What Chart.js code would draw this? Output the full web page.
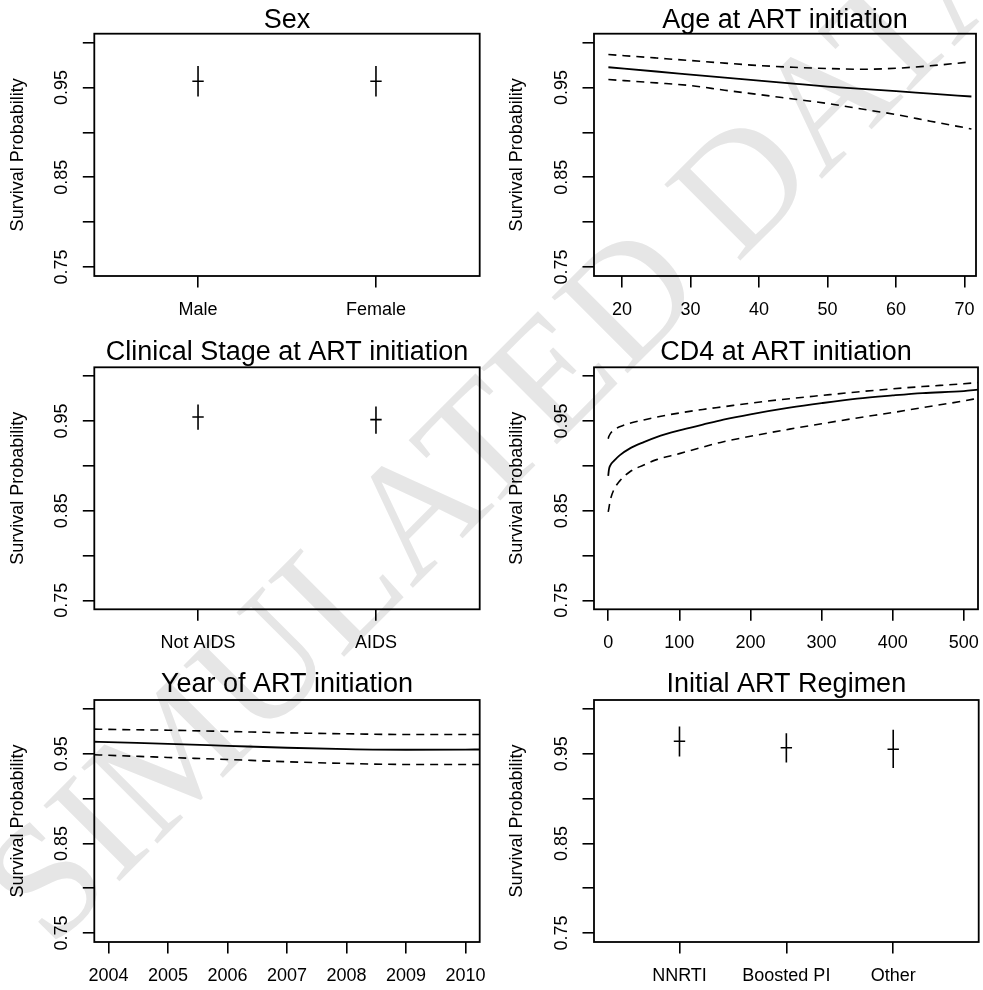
<!DOCTYPE html>
<html>
<head>
<meta charset="utf-8">
<script src="https://cdn.jsdelivr.net/npm/chart.js@4.4.0/dist/chart.umd.min.js"></script>
<style>
html,body{margin:0;padding:0;background:#fff;width:983px;height:990px;overflow:hidden;position:relative;}
#wm{position:absolute;left:505px;top:418px;transform:translate(-50%,-50%) rotate(-45deg);font-family:'Liberation Serif','Times New Roman',serif;font-size:164px;line-height:1;color:#e6e6e6;white-space:nowrap;z-index:0;}
canvas{position:absolute;z-index:1;}
</style>
</head>
<body>
<div id="wm">SIMULATED DATA</div>
<script>
// ---------------- data ----------------
const yTickValues = [0.75, 0.80, 0.85, 0.90, 0.95, 1.00];
const yTickLabels = ['0.75', '', '0.85', '', '0.95', ''];

const sexGroups = ['Male', 'Female'];
const sexEstimate = [0.957, 0.957];
const sexLower = [0.940, 0.940];
const sexUpper = [0.974, 0.974];

const stageGroups = ['Not AIDS', 'AIDS'];
const stageEstimate = [0.9545, 0.9516];
const stageLower = [0.9404, 0.9360];
const stageUpper = [0.9686, 0.9664];

const regimenGroups = ['NNRTI', 'Boosted PI', 'Other'];
const regimenEstimate = [0.9640, 0.9567, 0.9551];
const regimenLower = [0.9470, 0.9403, 0.9340];
const regimenUpper = [0.9804, 0.9730, 0.9768];

const ageTicks = [20, 30, 40, 50, 60, 70];
const ageValues = [18, 25, 30, 35, 40, 45, 50, 55, 60, 65, 71];
const ageEstimate = [0.9726, 0.9679, 0.9645, 0.9611, 0.9578, 0.9544, 0.9511, 0.9485, 0.9459, 0.9432, 0.9400];
const ageUpper = [0.9868, 0.9829, 0.9801, 0.9772, 0.9745, 0.9726, 0.9712, 0.9704, 0.9715, 0.9742, 0.9787];
const ageLower = [0.9589, 0.9552, 0.9522, 0.9470, 0.9422, 0.9372, 0.9322, 0.9260, 0.9199, 0.9125, 0.9039];

const cd4Ticks = [0, 100, 200, 300, 400, 500];
const cd4Values = [0, 1, 3, 8, 16, 30, 50, 68, 100, 133, 162, 200, 255, 300, 350, 400, 442, 500, 520];
const cd4Estimate = [0.8888, 0.8959, 0.9007, 0.9055, 0.9118, 0.9193, 0.9266, 0.9322, 0.9396, 0.9460, 0.9515, 0.9575, 0.9649, 0.9700, 0.9750, 0.9786, 0.9812, 0.9834, 0.9850];
const cd4Upper = [0.9304, 0.9330, 0.9360, 0.9400, 0.9436, 0.9475, 0.9513, 0.9545, 0.9590, 0.9630, 0.9660, 0.9700, 0.9750, 0.9786, 0.9825, 0.9860, 0.9885, 0.9916, 0.9930];
const cd4Lower = [0.8487, 0.8530, 0.8620, 0.8735, 0.8830, 0.8932, 0.9010, 0.9070, 0.9137, 0.9210, 0.9270, 0.9330, 0.9410, 0.9470, 0.9535, 0.9595, 0.9650, 0.9725, 0.9755];

const yearTicks = [2004, 2005, 2006, 2007, 2008, 2009, 2010];
const yearValues = [2003.76, 2004, 2005, 2006, 2007, 2008, 2009, 2010, 2010.24];
const yearEstimate = [0.9634, 0.9629, 0.9611, 0.9589, 0.9567, 0.9552, 0.9545, 0.9547, 0.9548];
const yearUpper = [0.9775, 0.9772, 0.9763, 0.9749, 0.9734, 0.9723, 0.9715, 0.9715, 0.9715];
const yearLower = [0.9489, 0.9483, 0.9459, 0.9436, 0.9411, 0.9392, 0.9381, 0.9381, 0.9381];

// ---------------- styling / layout ----------------
Chart.defaults.font.family = "'Liberation Sans', Arial, Helvetica, sans-serif";
Chart.defaults.font.size = 18;
Chart.defaults.color = '#000';
Chart.defaults.animation = false;

const FONT = "'Liberation Sans', Arial, Helvetica, sans-serif";
const TITLE_H = 40, XAX_H = 60;

const boxPlugin = {
  id: 'rbox',
  afterDatasetsDraw(chart) {
    const {ctx, chartArea: a} = chart;
    ctx.save();
    ctx.strokeStyle = '#000';
    ctx.lineWidth = 1.8;
    ctx.strokeRect(a.left, a.top, a.right - a.left, a.bottom - a.top);
    ctx.restore();
  }
};

function curveSets(xs, est, lo, hi) {
  const mk = (vals, dash, w) => ({
    data: xs.map((x, i) => ({x: x, y: vals[i]})),
    showLine: true, pointRadius: 0, borderColor: '#000', borderWidth: w,
    borderDash: dash, cubicInterpolationMode: 'monotone', clip: 0
  });
  return [mk(est, [], 1.8), mk(hi, [8, 6], 1.6), mk(lo, [8, 6], 1.6)];
}

function crossSets(groups, est, lo, hi) {
  const sets = groups.map((g, i) => ({
    data: [{x: i + 1, y: lo[i]}, {x: i + 1, y: hi[i]}],
    showLine: true, pointRadius: 0, borderColor: '#000', borderWidth: 1.6
  }));
  sets.push({
    data: groups.map((g, i) => ({x: i + 1, y: est[i]})),
    showLine: false, pointStyle: 'line', pointRadius: 5.7,
    pointBorderColor: '#000', borderColor: '#000', pointBorderWidth: 1.6, borderWidth: 1.6
  });
  return sets;
}

function makePanel(p) {
  const left = p.colLeft;
  const top = Math.floor(p.box.t - TITLE_H);
  const titleH = p.box.t - top;
  const w = Math.ceil(p.box.r + 40 - left);
  const h = Math.ceil(titleH + (p.box.b - p.box.t) + XAX_H);
  const cv = document.createElement('canvas');
  cv.width = w; cv.height = h;
  cv.style.left = left + 'px'; cv.style.top = top + 'px';
  cv.style.width = w + 'px'; cv.style.height = h + 'px';
  document.body.appendChild(cv);

  const yAxW = p.box.l - left;
  const xAxH = h - (p.box.b - top);
  const tTop = (p.titleBase - 9.36 - top) - 12.15;
  const tBot = titleH - 24.3 - tTop;

  new Chart(cv, {
    type: 'scatter',
    data: {datasets: p.datasets},
    plugins: [boxPlugin],
    options: {
      responsive: false,
      animation: false,
      layout: {padding: {left: 0, top: 0, bottom: 0, right: w - (p.box.r - left)}},
      plugins: {
        legend: {display: false},
        tooltip: {enabled: false},
        title: {
          display: true, text: p.title, fullSize: false, color: '#000',
          font: {family: FONT, size: 27, weight: 'normal', lineHeight: 0.9},
          padding: {top: tTop, bottom: tBot}
        }
      },
      scales: {
        x: {
          type: 'linear', position: 'bottom', min: p.xMin, max: p.xMax,
          afterBuildTicks: s => { s.ticks = p.xTicks.map(v => ({value: v})); },
          afterFit: s => { s.height = xAxH; },
          ticks: {callback: p.xLabel, padding: 11.4, autoSkip: false, maxRotation: 0, minRotation: 0, color: '#000', font: {family: FONT, size: 18}},
          grid: {drawOnChartArea: false, drawTicks: true, tickLength: 11.5, color: '#000', lineWidth: 1.6},
          border: {display: false}
        },
        y: {
          type: 'linear', position: 'left', min: 0.74, max: 1.01,
          afterBuildTicks: s => { s.ticks = yTickValues.map(v => ({value: v})); },
          afterFit: s => { s.width = yAxW; },
          ticks: {callback: v => yTickLabels[yTickValues.indexOf(v)], autoSkip: false, minRotation: 90, maxRotation: 90, crossAlign: 'center', padding: 3, color: '#000', font: {family: FONT, size: 18}},
          grid: {drawOnChartArea: false, drawTicks: true, tickLength: 11.5, color: '#000', lineWidth: 1.6},
          border: {display: false},
          title: {display: true, text: 'Survival Probability', color: '#000', font: {family: FONT, size: 18}, padding: {top: p.ylabPad, bottom: 0}}
        }
      }
    }
  });
}

const panels = [
  {title: 'Sex', colLeft: 0, box: {l: 94.3, t: 33.7, r: 479.7, b: 276}, titleBase: 30, ylabPad: 7.6,
   xMin: 0.417, xMax: 2.583, xTicks: [1, 2], xLabel: v => sexGroups[v - 1],
   datasets: crossSets(sexGroups, sexEstimate, sexLower, sexUpper)},
  {title: 'Age at ART initiation', colLeft: 490, box: {l: 594, t: 33.7, r: 976, b: 276}, titleBase: 29.6, ylabPad: 16.6,
   xMin: 15.9, xMax: 71.67, xTicks: ageTicks, xLabel: v => String(v),
   datasets: curveSets(ageValues, ageEstimate, ageLower, ageUpper)},
  {title: 'Clinical Stage at ART initiation', colLeft: 0, box: {l: 94.3, t: 367.3, r: 479.7, b: 609.3}, titleBase: 361.8, ylabPad: 7.6,
   xMin: 0.417, xMax: 2.583, xTicks: [1, 2], xLabel: v => stageGroups[v - 1],
   datasets: crossSets(stageGroups, stageEstimate, stageLower, stageUpper)},
  {title: 'CD4 at ART initiation', colLeft: 490, box: {l: 594, t: 367.3, r: 978, b: 609.3}, titleBase: 361.8, ylabPad: 16.6,
   xMin: -20, xMax: 520, xTicks: cd4Ticks, xLabel: v => String(v),
   datasets: curveSets(cd4Values, cd4Estimate, cd4Lower, cd4Upper)},
  {title: 'Year of ART initiation', colLeft: 0, box: {l: 94.3, t: 700, r: 479.7, b: 942}, titleBase: 694.3, ylabPad: 7.6,
   xMin: 2003.76, xMax: 2010.24, xTicks: yearTicks, xLabel: v => String(v),
   datasets: curveSets(yearValues, yearEstimate, yearLower, yearUpper)},
  {title: 'Initial ART Regimen', colLeft: 490, box: {l: 594, t: 700, r: 978.7, b: 942}, titleBase: 694.3, ylabPad: 16.6,
   xMin: 0.2, xMax: 3.8, xTicks: [1, 2, 3], xLabel: v => regimenGroups[v - 1],
   datasets: crossSets(regimenGroups, regimenEstimate, regimenLower, regimenUpper)}
];

panels.forEach(makePanel);
</script>
</body>
</html>
